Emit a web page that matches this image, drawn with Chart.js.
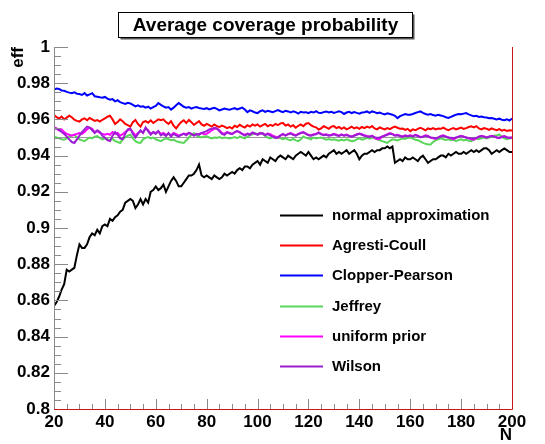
<!DOCTYPE html>
<html>
<head>
<meta charset="utf-8">
<title>Average coverage probability</title>
<script src="https://cdn.jsdelivr.net/npm/chart.js@4.4.0/dist/chart.umd.min.js"></script>
<style>
    html, body { margin: 0; padding: 0; background: #fff; }
    #wrap { width: 545px; height: 444px; }
</style>
</head>
<body>
<div id="wrap"><canvas id="coverage" width="545" height="444"></canvas></div>
<script>
// === DATA ===
const chartTitle = "Average coverage probability";
const xTitle = "N";
const yTitle = "eff";
const nFirst = 20;
const xTicks = [20, 40, 60, 80, 100, 120, 140, 160, 180, 200];
const yTicks = [0.8, 0.82, 0.84, 0.86, 0.88, 0.9, 0.92, 0.94, 0.96, 0.98, 1];
const nominalLevel = 0.95;

const methods = ["normal approximation", "Agresti-Coull", "Clopper-Pearson", "Jeffrey", "uniform prior", "Wilson"];
const lineColors = ["#000000", "#ff0000", "#0000ff", "#5ad65a", "#ff00ff", "#9a1ed2"];

// one value per N = 20 .. 200
const normalApprox = [
    0.857, 0.859, 0.862, 0.866, 0.869, 0.877, 0.876, 0.877, 0.878, 0.885,
    0.891, 0.889, 0.889, 0.891, 0.895, 0.897, 0.896, 0.899, 0.897, 0.901,
    0.902, 0.901, 0.905, 0.904, 0.906, 0.907, 0.909, 0.910, 0.914, 0.915,
    0.916, 0.915, 0.911, 0.913, 0.916, 0.913, 0.916, 0.914, 0.920, 0.921,
    0.923, 0.921, 0.922, 0.924, 0.920, 0.923, 0.926, 0.928, 0.926, 0.923,
    0.923, 0.925, 0.927, 0.929, 0.929, 0.930, 0.932, 0.935, 0.929, 0.928,
    0.929, 0.928, 0.927, 0.929, 0.928, 0.927, 0.928, 0.930, 0.929, 0.930,
    0.931, 0.930, 0.932, 0.933, 0.932, 0.934, 0.934, 0.933, 0.935, 0.936,
    0.937, 0.935, 0.938, 0.937, 0.936, 0.939, 0.938, 0.937, 0.939, 0.940,
    0.939, 0.938, 0.940, 0.939, 0.938, 0.940, 0.941, 0.942, 0.941, 0.940,
    0.942, 0.940, 0.938, 0.939, 0.938, 0.939, 0.940, 0.939, 0.941, 0.942,
    0.943, 0.941, 0.942, 0.941, 0.942, 0.943, 0.941, 0.942, 0.943, 0.941,
    0.938, 0.940, 0.941, 0.941, 0.942, 0.943, 0.942, 0.943, 0.943, 0.944,
    0.944, 0.945, 0.944, 0.945, 0.936, 0.937, 0.938, 0.937, 0.939, 0.938,
    0.938, 0.939, 0.938, 0.937, 0.939, 0.940, 0.938, 0.936, 0.937, 0.938,
    0.938, 0.939, 0.940, 0.940, 0.939, 0.941, 0.940, 0.941, 0.942, 0.941,
    0.941, 0.942, 0.941, 0.942, 0.943, 0.942, 0.943, 0.942, 0.943, 0.944,
    0.944, 0.943, 0.941, 0.942, 0.943, 0.942, 0.943, 0.944, 0.943, 0.942,
    0.942
];
const agrestiCoull = [
    0.9625, 0.9612, 0.9605, 0.9615, 0.9600, 0.9610, 0.9620, 0.9612, 0.9598, 0.9592,
    0.9588, 0.9600, 0.9606, 0.9595, 0.9608, 0.9600, 0.9592, 0.9596, 0.9588, 0.9598,
    0.9605, 0.9615, 0.9620, 0.9600, 0.9575, 0.9585, 0.9600, 0.9590, 0.9575, 0.9568,
    0.9560, 0.9585, 0.9597, 0.9575, 0.9560, 0.9585, 0.9590, 0.9582, 0.9595, 0.9580,
    0.9590, 0.9600, 0.9595, 0.9600, 0.9585, 0.9575, 0.9590, 0.9565, 0.9550, 0.9570,
    0.9585, 0.9595, 0.9580, 0.9597, 0.9585, 0.9570, 0.9580, 0.9590, 0.9572, 0.9565,
    0.9575, 0.9568, 0.9560, 0.9572, 0.9563, 0.9558, 0.9566, 0.9560, 0.9552, 0.9558,
    0.9550, 0.9565, 0.9558, 0.9570, 0.9562, 0.9555, 0.9568, 0.9560, 0.9572, 0.9565,
    0.9572, 0.9560, 0.9568, 0.9575, 0.9562, 0.9570, 0.9564, 0.9575, 0.9568, 0.9578,
    0.9580, 0.9566, 0.9572, 0.9560, 0.9568, 0.9554, 0.9565, 0.9572, 0.9562, 0.9576,
    0.9580, 0.9568, 0.9560, 0.9556, 0.9544, 0.9550, 0.9562, 0.9556, 0.9548, 0.9560,
    0.9563, 0.9552, 0.9558, 0.9548, 0.9556, 0.9545, 0.9552, 0.9560, 0.9550, 0.9556,
    0.9548, 0.9558, 0.9552, 0.9560, 0.9554, 0.9563, 0.9550, 0.9545, 0.9556, 0.9550,
    0.9545, 0.9552, 0.9546, 0.9555, 0.9560, 0.9554, 0.9548, 0.9550, 0.9542, 0.9548,
    0.9535, 0.9545, 0.9540, 0.9548, 0.9554, 0.9548, 0.9540, 0.9550, 0.9546, 0.9552,
    0.9545, 0.9550, 0.9548, 0.9554, 0.9546, 0.9540, 0.9548, 0.9552, 0.9545, 0.9550,
    0.9555, 0.9548, 0.9552, 0.9558, 0.9562, 0.9556, 0.9563, 0.9550, 0.9545, 0.9552,
    0.9548, 0.9542, 0.9550, 0.9545, 0.9540, 0.9546, 0.9538, 0.9542, 0.9536, 0.9540,
    0.9538
];
const clopperPearson = [
    0.9765, 0.9770, 0.9768, 0.9760, 0.9758, 0.9752, 0.9748, 0.9745, 0.9750, 0.9742,
    0.9740, 0.9735, 0.9745, 0.9732, 0.9738, 0.9745, 0.9728, 0.9725, 0.9722, 0.9720,
    0.9724, 0.9715, 0.9709, 0.9712, 0.9700, 0.9706, 0.9695, 0.9690, 0.9685, 0.9692,
    0.9688, 0.9680, 0.9672, 0.9678, 0.9670, 0.9672, 0.9665, 0.9670, 0.9660, 0.9668,
    0.9675, 0.9690, 0.9680, 0.9672, 0.9665, 0.9668, 0.9654, 0.9665, 0.9678, 0.9690,
    0.9680, 0.9670, 0.9665, 0.9668, 0.9660, 0.9665, 0.9668, 0.9663, 0.9660, 0.9658,
    0.9662, 0.9655, 0.9660, 0.9664, 0.9658, 0.9650, 0.9655, 0.9660, 0.9656, 0.9654,
    0.9658, 0.9662, 0.9655, 0.9660, 0.9665, 0.9655, 0.9640, 0.9650, 0.9645, 0.9638,
    0.9635, 0.9645, 0.9650, 0.9642, 0.9648, 0.9644, 0.9640, 0.9646, 0.9652, 0.9645,
    0.9640, 0.9648, 0.9644, 0.9638, 0.9645, 0.9640, 0.9632, 0.9642, 0.9638, 0.9640,
    0.9635, 0.9642, 0.9638, 0.9645, 0.9636, 0.9635, 0.9640, 0.9644, 0.9638, 0.9642,
    0.9636, 0.9640, 0.9645, 0.9640, 0.9630, 0.9638, 0.9642, 0.9635, 0.9640, 0.9636,
    0.9632, 0.9638, 0.9640, 0.9644, 0.9636, 0.9644, 0.9640, 0.9634, 0.9638, 0.9632,
    0.9628, 0.9634, 0.9630, 0.9626, 0.9620, 0.9607, 0.9618, 0.9624, 0.9630, 0.9626,
    0.9626, 0.9630, 0.9635, 0.9640, 0.9644, 0.9636, 0.9630, 0.9626, 0.9630, 0.9624,
    0.9620, 0.9626, 0.9622, 0.9618, 0.9612, 0.9608, 0.9614, 0.9620, 0.9626, 0.9630,
    0.9628, 0.9632, 0.9635, 0.9628, 0.9622, 0.9618, 0.9620, 0.9614, 0.9616, 0.9612,
    0.9610, 0.9606, 0.9608, 0.9604, 0.9600, 0.9604, 0.9598, 0.9596, 0.9600, 0.9594,
    0.9605
];
const jeffrey = [
    0.9505, 0.9500, 0.9495, 0.9490, 0.9488, 0.9495, 0.9505, 0.9512, 0.9515, 0.9500,
    0.9490, 0.9484, 0.9480, 0.9490, 0.9500, 0.9495, 0.9505, 0.9508, 0.9498, 0.9490,
    0.9495, 0.9490, 0.9485, 0.9492, 0.9480, 0.9475, 0.9470, 0.9490, 0.9500, 0.9510,
    0.9515, 0.9495, 0.9480, 0.9472, 0.9470, 0.9490, 0.9498, 0.9502, 0.9495, 0.9500,
    0.9490, 0.9485, 0.9480, 0.9488, 0.9495, 0.9490, 0.9485, 0.9488, 0.9480, 0.9475,
    0.9472, 0.9470, 0.9485, 0.9500, 0.9515, 0.9525, 0.9510, 0.9505, 0.9500, 0.9505,
    0.9507, 0.9500, 0.9495, 0.9500, 0.9498, 0.9502, 0.9496, 0.9500, 0.9498, 0.9495,
    0.9498, 0.9502, 0.9496, 0.9505, 0.9500, 0.9495, 0.9505, 0.9512, 0.9518, 0.9522,
    0.9520, 0.9526, 0.9520, 0.9508, 0.9500, 0.9495, 0.9502, 0.9498, 0.9500, 0.9495,
    0.9490, 0.9495, 0.9488, 0.9485, 0.9492, 0.9484, 0.9480, 0.9490, 0.9505, 0.9498,
    0.9495, 0.9490, 0.9500, 0.9495, 0.9498, 0.9500, 0.9494, 0.9488, 0.9492, 0.9486,
    0.9490, 0.9486, 0.9482, 0.9488, 0.9484, 0.9490, 0.9485, 0.9480, 0.9482, 0.9490,
    0.9495, 0.9488, 0.9492, 0.9498, 0.9494, 0.9500, 0.9495, 0.9490, 0.9485, 0.9480,
    0.9475, 0.9470, 0.9482, 0.9490, 0.9488, 0.9484, 0.9490, 0.9495, 0.9492, 0.9498,
    0.9500, 0.9494, 0.9488, 0.9485, 0.9478, 0.9470, 0.9465, 0.9462, 0.9462, 0.9475,
    0.9485, 0.9490, 0.9495, 0.9490, 0.9486, 0.9490, 0.9485, 0.9488, 0.9480, 0.9486,
    0.9490, 0.9484, 0.9488, 0.9482, 0.9480, 0.9488, 0.9494, 0.9490, 0.9496, 0.9500,
    0.9495, 0.9500, 0.9505, 0.9510, 0.9512, 0.9516, 0.9505, 0.9495, 0.9490, 0.9495,
    0.9498
];
const uniformPrior = [
    0.9555, 0.9550, 0.9540, 0.9545, 0.9530, 0.9520, 0.9515, 0.9510, 0.9515, 0.9520,
    0.9525, 0.9520, 0.9530, 0.9545, 0.9555, 0.9548, 0.9530, 0.9535, 0.9525, 0.9520,
    0.9515, 0.9520, 0.9515, 0.9530, 0.9520, 0.9525, 0.9510, 0.9518, 0.9530, 0.9540,
    0.9545, 0.9530, 0.9510, 0.9525, 0.9535, 0.9528, 0.9550, 0.9540, 0.9520, 0.9530,
    0.9525, 0.9535, 0.9518, 0.9525, 0.9515, 0.9520, 0.9512, 0.9525, 0.9518, 0.9510,
    0.9515, 0.9522, 0.9518, 0.9525, 0.9520, 0.9512, 0.9518, 0.9520, 0.9525, 0.9518,
    0.9520, 0.9530, 0.9540, 0.9548, 0.9550, 0.9540, 0.9525, 0.9520, 0.9530, 0.9525,
    0.9520, 0.9528, 0.9535, 0.9530, 0.9520, 0.9515, 0.9522, 0.9518, 0.9525, 0.9520,
    0.9518, 0.9525, 0.9520, 0.9515, 0.9522, 0.9518, 0.9510, 0.9505, 0.9498, 0.9510,
    0.9518, 0.9512, 0.9520, 0.9525, 0.9518, 0.9512, 0.9520, 0.9526, 0.9530, 0.9522,
    0.9515, 0.9512, 0.9518, 0.9520, 0.9528, 0.9520, 0.9515, 0.9518, 0.9512, 0.9515,
    0.9520, 0.9515, 0.9510, 0.9518, 0.9512, 0.9516, 0.9510, 0.9505, 0.9512, 0.9518,
    0.9522, 0.9518, 0.9512, 0.9508, 0.9505, 0.9510, 0.9498, 0.9490, 0.9492, 0.9505,
    0.9512, 0.9518, 0.9525, 0.9520, 0.9512, 0.9515, 0.9510, 0.9505, 0.9512, 0.9508,
    0.9512, 0.9508, 0.9515, 0.9510, 0.9502, 0.9505, 0.9512, 0.9508, 0.9500, 0.9495,
    0.9492, 0.9500, 0.9508, 0.9512, 0.9506, 0.9500, 0.9495, 0.9490, 0.9498, 0.9505,
    0.9510, 0.9505, 0.9500, 0.9495, 0.9490, 0.9488, 0.9496, 0.9505, 0.9510, 0.9506,
    0.9500, 0.9505, 0.9510, 0.9506, 0.9500, 0.9498, 0.9504, 0.9508, 0.9502, 0.9498,
    0.9500
];
const wilson = [
    0.9552, 0.9548, 0.9542, 0.9530, 0.9520, 0.9505, 0.9490, 0.9475, 0.9470, 0.9490,
    0.9510, 0.9530, 0.9545, 0.9560, 0.9555, 0.9540, 0.9525, 0.9540, 0.9530, 0.9510,
    0.9498, 0.9485, 0.9480, 0.9510, 0.9530, 0.9515, 0.9495, 0.9490, 0.9520, 0.9545,
    0.9550, 0.9520, 0.9500, 0.9520, 0.9540, 0.9525, 0.9555, 0.9535, 0.9515, 0.9530,
    0.9520, 0.9535, 0.9512, 0.9520, 0.9508, 0.9525, 0.9505, 0.9520, 0.9512, 0.9505,
    0.9515, 0.9520, 0.9512, 0.9526, 0.9518, 0.9510, 0.9520, 0.9515, 0.9525, 0.9530,
    0.9535, 0.9545, 0.9548, 0.9554, 0.9550, 0.9535, 0.9520, 0.9515, 0.9528, 0.9522,
    0.9518, 0.9530, 0.9535, 0.9528, 0.9518, 0.9510, 0.9520, 0.9515, 0.9528, 0.9522,
    0.9515, 0.9522, 0.9525, 0.9512, 0.9520, 0.9510, 0.9505, 0.9498, 0.9502, 0.9512,
    0.9520, 0.9510, 0.9518, 0.9522, 0.9515, 0.9510, 0.9518, 0.9524, 0.9528, 0.9520,
    0.9512, 0.9510, 0.9515, 0.9518, 0.9525, 0.9518, 0.9512, 0.9515, 0.9510, 0.9512,
    0.9518, 0.9512, 0.9508, 0.9515, 0.9510, 0.9514, 0.9508, 0.9504, 0.9510, 0.9515,
    0.9520, 0.9515, 0.9510, 0.9506, 0.9504, 0.9508, 0.9502, 0.9498, 0.9500, 0.9506,
    0.9510, 0.9515, 0.9520, 0.9518, 0.9510, 0.9512, 0.9508, 0.9504, 0.9510, 0.9506,
    0.9510, 0.9506, 0.9512, 0.9508, 0.9502, 0.9504, 0.9510, 0.9506, 0.9500, 0.9498,
    0.9496, 0.9500, 0.9506, 0.9510, 0.9504, 0.9500, 0.9498, 0.9496, 0.9500, 0.9504,
    0.9508, 0.9504, 0.9500, 0.9498, 0.9495, 0.9494, 0.9498, 0.9504, 0.9508, 0.9504,
    0.9500, 0.9504, 0.9508, 0.9505, 0.9500, 0.9498, 0.9502, 0.9506, 0.9500, 0.9498,
    0.9500
];

const seriesValues = [normalApprox, agrestiCoull, clopperPearson, jeffrey, uniformPrior, wilson];

// === STYLE ===
const FONT = "'Liberation Sans', Arial, Helvetica, sans-serif";
const AXIS_GREY = "#8a8a8a";
const FRAME_RED = "#c81818";

function toPoints(values) {
    return values.map((v, i) => ({ x: nFirst + i, y: v }));
}

const datasets = seriesValues.map((values, i) => ({
    label: methods[i],
    data: toPoints(values),
    borderColor: lineColors[i],
    borderWidth: 2,
    pointRadius: 0,
    tension: 0,
    fill: false,
    order: seriesValues.length - i
}));

// grey reference line at the nominal level, sitting under every curve
datasets.push({
    label: "nominal",
    data: [{ x: xTicks[0], y: nominalLevel }, { x: xTicks[xTicks.length - 1], y: nominalLevel }],
    borderColor: "#9a9a9a",
    borderWidth: 1,
    pointRadius: 0,
    order: 99
});

// boxed title with a drop shadow
const titleBox = {
    id: "titleBox",
    afterDraw(chart) {
        const ctx = chart.ctx;
        const x0 = 118.5, y0 = 12.5, w = 294, h = 25;
        ctx.save();
        ctx.fillStyle = "#555";
        ctx.fillRect(x0 + 2, y0 + 2, w, h);
        ctx.fillStyle = "#fff";
        ctx.fillRect(x0, y0, w, h);
        ctx.strokeStyle = "#000";
        ctx.lineWidth = 1;
        ctx.strokeRect(x0, y0, w, h);
        ctx.fillStyle = "#000";
        ctx.font = "bold 19px " + FONT;
        ctx.textAlign = "center";
        ctx.textBaseline = "middle";
        ctx.fillText(chartTitle, x0 + w / 2, y0 + h / 2 + 1);
        ctx.restore();
    }
};

// ROOT-style frame: ticks pointing inward, red bottom/right edge
const frameTicks = {
    id: "frameTicks",
    afterDatasetsDraw(chart) {
        const { ctx, chartArea: a, scales } = chart;
        const xs = scales.x, ys = scales.y;
        ctx.save();
        ctx.lineWidth = 1;
        ctx.strokeStyle = AXIS_GREY;

        ctx.beginPath();
        ctx.moveTo(a.left + 0.5, a.top);
        ctx.lineTo(a.left + 0.5, a.bottom);
        const yStep = (yTicks[1] - yTicks[0]) / 4;
        for (let k = 0; k <= (yTicks[yTicks.length - 1] - yTicks[0]) / yStep + 0.01; k++) {
            const v = yTicks[0] + k * yStep;
            const py = Math.round(ys.getPixelForValue(v)) + 0.5;
            const len = k % 4 === 0 ? 14 : 7;
            ctx.moveTo(a.left, py);
            ctx.lineTo(a.left + len, py);
        }
        const xStep = (xTicks[1] - xTicks[0]) / 4;
        for (let k = 0; k <= (xTicks[xTicks.length - 1] - xTicks[0]) / xStep + 0.01; k++) {
            const v = xTicks[0] + k * xStep;
            const px = Math.round(xs.getPixelForValue(v)) + 0.5;
            const len = k % 4 === 0 ? 10 : 5;
            ctx.moveTo(px, a.bottom);
            ctx.lineTo(px, a.bottom - len);
        }
        ctx.stroke();

        ctx.strokeStyle = FRAME_RED;
        ctx.beginPath();
        ctx.moveTo(a.left, a.bottom + 0.5);
        ctx.lineTo(a.right + 0.5, a.bottom + 0.5);
        ctx.lineTo(a.right + 0.5, a.top);
        ctx.stroke();
        ctx.restore();
    }
};

// legend drawn inside the plot area
const insideLegend = {
    id: "insideLegend",
    afterDraw(chart) {
        const ctx = chart.ctx;
        const lineX0 = 280, lineX1 = 323, textX = 332, rowY = 215, rowGap = 30.2;
        ctx.save();
        ctx.font = "bold 15px " + FONT;
        ctx.textBaseline = "middle";
        ctx.textAlign = "left";
        methods.forEach((name, i) => {
            const y = Math.round(rowY + i * rowGap) + 0.5;
            ctx.strokeStyle = lineColors[i];
            ctx.lineWidth = 2;
            ctx.beginPath();
            ctx.moveTo(lineX0, y);
            ctx.lineTo(lineX1, y);
            ctx.stroke();
            ctx.fillStyle = "#000";
            ctx.fillText(name, textX, y);
        });
        ctx.restore();
    }
};

new Chart(document.getElementById("coverage"), {
    type: "line",
    data: { datasets: datasets },
    plugins: [titleBox, frameTicks, insideLegend],
    options: {
        responsive: false,
        animation: false,
        devicePixelRatio: 1,
        layout: { padding: { top: 47, right: 33, left: 0, bottom: 0 } },
        plugins: {
            legend: { display: false },
            title: { display: false },
            tooltip: { enabled: false }
        },
        scales: {
            x: {
                type: "linear",
                min: xTicks[0],
                max: xTicks[xTicks.length - 1],
                afterBuildTicks: (scale) => { scale.ticks = xTicks.map(v => ({ value: v })); },
                afterFit: (scale) => { scale.height = 35; },
                grid: { display: false, drawTicks: false },
                border: { display: false },
                ticks: {
                    padding: 3,
                    maxRotation: 0,
                    color: "#000",
                    font: { family: FONT, size: 17, weight: "bold" }
                },
                title: {
                    display: true,
                    text: xTitle,
                    align: "end",
                    color: "#000",
                    padding: 0,
                    font: { family: FONT, size: 17, weight: "bold", lineHeight: 1 }
                }
            },
            y: {
                type: "linear",
                min: yTicks[0],
                max: yTicks[yTicks.length - 1],
                afterBuildTicks: (scale) => { scale.ticks = yTicks.map(v => ({ value: v })); },
                afterFit: (scale) => { scale.width = 54; },
                grid: { display: false, drawTicks: false },
                border: { display: false },
                ticks: {
                    padding: 4,
                    color: "#000",
                    font: { family: FONT, size: 17, weight: "bold" },
                    callback: (v) => String(Math.round(v * 100) / 100)
                },
                title: {
                    display: true,
                    text: yTitle,
                    align: "end",
                    color: "#000",
                    padding: { top: 8 },
                    font: { family: FONT, size: 17, weight: "bold" }
                }
            }
        }
    }
});
</script>
</body>
</html>
